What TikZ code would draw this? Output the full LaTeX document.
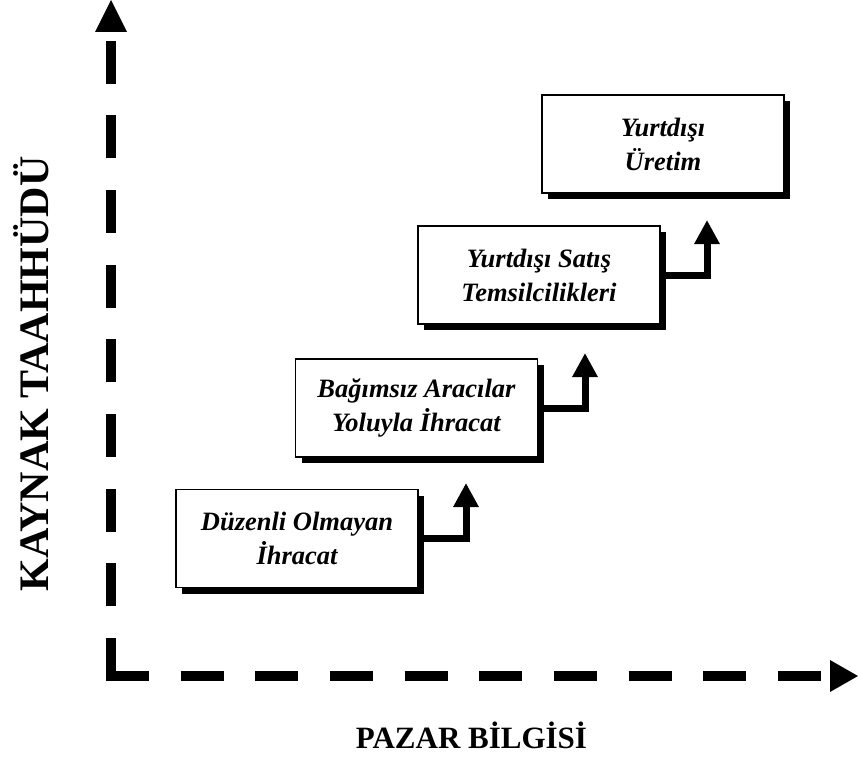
\documentclass[tikz,border=0pt]{standalone}
\usepackage{fontspec}
\setmainfont{Liberation Serif}
\usetikzlibrary{arrows.meta,shadows}
\begin{document}
\begin{tikzpicture}[x=1pt,y=-1pt,
  stage/.style={draw=black, line width=1.3pt, fill=white,
    minimum width=242pt, minimum height=98pt, align=center, inner sep=0pt,
    font=\fontsize{26.5}{34}\selectfont\bfseries\itshape,
    general shadow={fill=black, shadow xshift=6pt, shadow yshift=-6pt}},
  axis/.style={line width=10pt, dash pattern=on 43pt off 31.67pt},
  axishead/.style={fill=black},
  stepline/.style={line width=7pt, line join=miter, -{Triangle[width=24pt,length=24pt]}},
  axislabel/.style={font=\fontsize{31}{36}\selectfont\bfseries, inner sep=0pt}]
\useasboundingbox (0,0) rectangle (858,762);

% axes
\coordinate (ybot) at (111,681);
\coordinate (ytop) at (111,41);
\coordinate (xbeg) at (106,676);
\coordinate (xend) at (822,676);
\draw[axis] (ybot) -- (ytop);
\draw[axis] (xbeg) -- (xend);
\fill[axishead] (95,32) -- (127,32) -- (111,0) -- cycle;
\fill[axishead] (830,660) -- (830,692) -- (858,676) -- cycle;

% axis labels
\node[axislabel, anchor=base] (xlab) at (471.5,748) {PAZAR BİLGİSİ};
\node[axislabel, font=\fontsize{42}{48}\selectfont\bfseries, rotate=90, anchor=base] (ylab) at (48,374) {KAYNAK TAAHHÜDÜ};

% stages
\node[stage] (b1) at (297,538.5) {Düzenli Olmayan\\İhracat};
\node[stage] (b2) at (416.5,408) {Bağımsız Aracılar\\Yoluyla İhracat};
\node[stage] (b3) at (539,275) {Yurtdışı Satış\\Temsilcilikleri};
\node[stage] (b4) at (663,144) {Yurtdışı\\Üretim};

% step arrows
\coordinate (t1) at (466,483);
\coordinate (t2) at (585,353);
\coordinate (t3) at (707,220);
\draw[stepline] (b1.east) -| (t1);
\draw[stepline] (b2.east) -| (t2);
\draw[stepline] (b3.east) -| (t3);
\end{tikzpicture}
\end{document}
